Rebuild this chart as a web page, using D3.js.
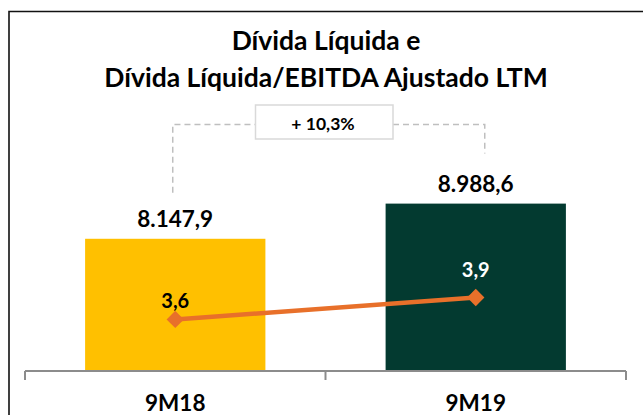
<!DOCTYPE html>
<html>
<head>
<meta charset="utf-8">
<script src="https://cdn.jsdelivr.net/npm/d3@7"></script>
<style>
  body { margin: 0; background: #fff; }
  svg { display: block; }
  text { font-family: Lato, "Open Sans", sans-serif; font-weight: bold; }
</style>
</head>
<body>
<script>
var categories = ["9M18", "9M19"];
var dividaLiquida = [8147.9, 8988.6];
var dividaLabels = ["8.147,9", "8.988,6"];
var alavancagem = [3.6, 3.9];
var alavLabels = ["3,6", "3,9"];
var barColors = ["#FFC000", "#033A30"];
var alavLabelColors = ["#000", "#fff"];
var titleLines = ["Dívida Líquida e", "Dívida Líquida/EBITDA Ajustado LTM"];
var variacao = "+ 10,3%";

var width = 643, height = 415;

var svg = d3.select("body").append("svg")
    .attr("width", width).attr("height", height);

// frame
svg.append("path")
    .attr("d", "M9,415 V11.5 H643")
    .attr("fill", "none").attr("stroke", "#111").attr("stroke-width", 1.6);

// title
svg.selectAll(".title").data(titleLines).enter().append("text")
    .attr("class", "title")
    .attr("x", 326)
    .attr("y", function(d, i) { return 50 + i * 37; })
    .attr("text-anchor", "middle")
    .attr("font-size", 26.5)
    .attr("fill", "#000")
    .text(function(d) { return d; });

var x = d3.scaleBand().domain(categories).range([25, 626])
    .paddingInner(0.4).paddingOuter(0.2);

var y = d3.scaleLinear().domain([5000, 12000]).range([370.5, 77.6]);
var y2 = d3.scaleLinear().domain([2.9, 6.9]).range([370.5, 78.5]);

// bars
svg.selectAll(".bar").data(dividaLiquida).enter().append("rect")
    .attr("class", "bar")
    .attr("x", function(d, i) { return x(categories[i]); })
    .attr("width", x.bandwidth())
    .attr("y", function(d) { return y(d); })
    .attr("height", function(d) { return y(5000) - y(d); })
    .attr("fill", function(d, i) { return barColors[i]; });

// bar labels
svg.selectAll(".barlabel").data(dividaLiquida).enter().append("text")
    .attr("class", "barlabel")
    .attr("x", function(d, i) { return x(categories[i]) + x.bandwidth() / 2; })
    .attr("y", function(d) { return y(d) - 12; })
    .attr("text-anchor", "middle")
    .attr("font-size", 22.5)
    .text(function(d, i) { return dividaLabels[i]; });

// axis
var axisG = svg.append("g").attr("transform", "translate(0," + 371 + ")");
axisG.append("line").attr("x1", 25).attr("x2", 626)
    .attr("stroke", "#8c8c8c").attr("stroke-width", 2);
var bounds = [x.range()[0], (x.range()[0] + x.range()[1]) / 2, x.range()[1]];
axisG.selectAll(".tk").data(bounds).enter().append("line")
    .attr("x1", function(d) { return d; }).attr("x2", function(d) { return d; })
    .attr("y1", 0).attr("y2", 9)
    .attr("stroke", "#8c8c8c").attr("stroke-width", 2);
axisG.selectAll(".cat").data(categories).enter().append("text")
    .attr("x", function(d) { return x(d) + x.bandwidth() / 2; })
    .attr("y", 40)
    .attr("text-anchor", "middle")
    .attr("font-size", 22.5)
    .text(function(d) { return d; });

// line
var pts = alavancagem.map(function(d, i) {
  return [x(categories[i]) + x.bandwidth() / 2, y2(d)];
});
svg.append("path")
    .attr("d", d3.line()(pts))
    .attr("fill", "none").attr("stroke", "#E8702A").attr("stroke-width", 4.5);
svg.selectAll(".mk").data(pts).enter().append("path")
    .attr("d", d3.symbol().type(d3.symbolSquare).size(150))
    .attr("transform", function(d) { return "translate(" + d[0] + "," + d[1] + ") rotate(45)"; })
    .attr("fill", "#E8702A");

var labelOff = [11, 21];
svg.selectAll(".alav").data(alavancagem).enter().append("text")
    .attr("x", function(d, i) { return pts[i][0]; })
    .attr("y", function(d, i) { return pts[i][1] - labelOff[i]; })
    .attr("text-anchor", "middle")
    .attr("font-size", 20)
    .attr("fill", function(d, i) { return alavLabelColors[i]; })
    .text(function(d, i) { return alavLabels[i]; });

// variation bracket
var lx = pts[0][0] - 2.5, rx = pts[1][0] + 9, by = 124.5;
var dash = svg.append("g").attr("fill", "none").attr("stroke", "#BFBFBF")
    .attr("stroke-width", 1.5).attr("stroke-dasharray", "6,4");
dash.append("path").attr("d", "M" + lx + "," + (y(dividaLiquida[0]) - 46) + " V" + by + " H255");
dash.append("path").attr("d", "M393," + by + " H" + rx + " V" + (y(dividaLiquida[1]) - 50));
svg.append("rect").attr("x", 255.5).attr("y", 105).attr("width", 137.5).attr("height", 34)
    .attr("fill", "#fff").attr("stroke", "#D9D9D9").attr("stroke-width", 1.5);
svg.append("text").attr("x", 323).attr("y", 129.5)
    .attr("text-anchor", "middle").attr("font-size", 17.5)
    .text(variacao);
</script>
</body>
</html>
